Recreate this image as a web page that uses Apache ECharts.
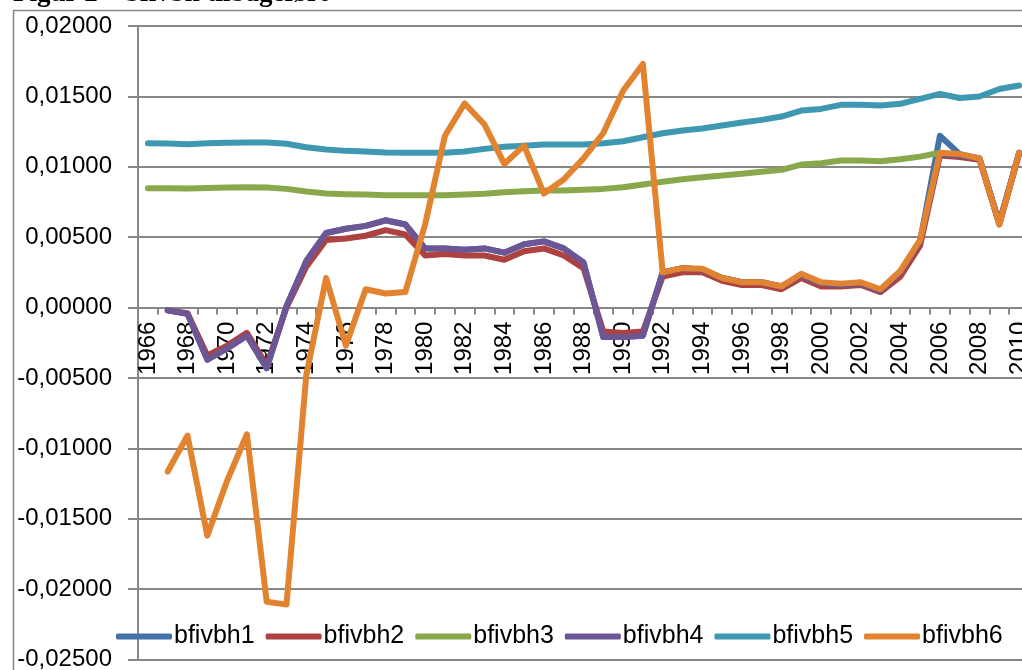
<!DOCTYPE html>
<html>
<head>
<meta charset="utf-8">
<script src="https://cdn.jsdelivr.net/npm/echarts@6/dist/echarts.min.js"></script>
<style>html,body{margin:0;padding:0;background:#fff;}#c{width:1022px;height:670px;}</style>
</head>
<body>
<div id="c"></div>
<script>
var years = [];
for (var y = 1966; y <= 2010; y++) years.push(String(y));

var yTicks = { min: -0.025, max: 0.02, interval: 0.005 };

var bfivbh1 = [null,-0.0002,-0.00045,-0.0037,-0.0029,-0.0020,-0.0043,0.0001,0.0033,0.0053,0.0056,0.0058,0.0062,0.0059,0.0042,0.0042,0.0041,0.0042,0.0039,0.0045,0.0047,0.0042,0.0032,-0.0021,-0.0021,-0.0020,0.0025,0.0028,0.0027,0.0021,0.0018,0.0018,0.0015,0.0023,0.0017,0.0016,0.0017,0.0012,0.0025,0.0047,0.0122,0.0109,0.0106,0.0060,0.0110];
var bfivbh2 = [null,-0.0002,-0.0004,-0.0034,-0.0027,-0.0018,-0.0041,0.0000,0.0029,0.0048,0.0049,0.0051,0.0055,0.0052,0.0037,0.0038,0.0037,0.0037,0.0034,0.0040,0.0042,0.0037,0.0028,-0.0017,-0.0018,-0.0017,0.0022,0.0025,0.0025,0.0019,0.0016,0.0016,0.0013,0.0021,0.0015,0.0015,0.0016,0.0011,0.0022,0.0044,0.0108,0.0107,0.0105,0.0059,0.0109];
var bfivbh3 = [0.00848,0.00848,0.00845,0.0085,0.00852,0.00854,0.00852,0.00843,0.00824,0.0081,0.00805,0.00803,0.00798,0.00798,0.00798,0.00798,0.00803,0.00808,0.00819,0.00826,0.00831,0.00831,0.00836,0.00843,0.00854,0.00874,0.00893,0.00911,0.00925,0.00938,0.0095,0.00964,0.00978,0.01016,0.01025,0.01044,0.01044,0.01039,0.01053,0.01072,0.0110,null,null,null,null];
var bfivbh4 = [null,-0.0002,-0.00045,-0.0037,-0.0029,-0.0020,-0.0043,0.0001,0.0033,0.0053,0.0056,0.0058,0.0062,0.0059,0.0042,0.0042,0.0041,0.0042,0.0039,0.0045,0.0047,0.0042,0.0032,-0.0021,-0.0021,-0.0020,0.0025,0.0028,0.0027,0.0021,0.0018,0.0018,0.0015,0.0023,0.0017,0.0016,0.0017,0.0012,0.0025,0.0047,0.0109,0.0108,0.0106,0.0060,0.0110];
var bfivbh5 = [0.01167,0.01165,0.0116,0.01167,0.0117,0.01172,0.01172,0.01163,0.01139,0.01122,0.01113,0.01108,0.01101,0.01099,0.01099,0.01099,0.01108,0.01127,0.01143,0.0115,0.01158,0.01158,0.01158,0.01167,0.01181,0.0121,0.01238,0.01257,0.01272,0.01293,0.01314,0.01333,0.01357,0.01399,0.01411,0.0144,0.0144,0.01435,0.01447,0.01482,0.01518,0.01489,0.01499,0.01553,0.01577];
var bfivbh6 = [null,-0.01165,-0.0091,-0.0162,-0.0123,-0.0090,-0.0209,-0.0211,-0.0048,0.0021,-0.0027,0.0013,0.0010,0.0011,0.0059,0.0122,0.0145,0.0130,0.0102,0.0115,0.0081,0.0091,0.0106,0.0124,0.0154,0.0173,0.0025,0.0028,0.00275,0.0021,0.0018,0.0018,0.0015,0.0024,0.0018,0.0017,0.0018,0.0013,0.0026,0.0048,0.0110,0.0109,0.0106,0.0059,0.0110];

var names = ['bfivbh1','bfivbh2','bfivbh3','bfivbh4','bfivbh5','bfivbh6'];
var colors = ['#4472A8','#AD4240','#89A84C','#6C5695','#3E98B2','#E2832F'];
var seriesData = [bfivbh1,bfivbh2,bfivbh3,bfivbh4,bfivbh5,bfivbh6];

var gridH = 633.5;
// place the category axis at value 0 through the value scale
var zeroOffset = -(0 - yTicks.min) / (yTicks.max - yTicks.min) * gridH;

var grid = '#878787';
var chart = echarts.init(document.getElementById('c'), null, {renderer:'canvas'});
chart.setOption({
  animation: false,
  color: colors,
  textStyle: { fontFamily: 'Liberation Sans' },
  graphic: [
    { type: 'rect', shape: { x: 13.5, y: 10.5, width: 1100, height: 700 }, style: { fill: 'none', stroke: grid, lineWidth: 1.5 }, z: 0 },
    { type: 'text', x: 13, y: -5.5, style: { text: 'Figur 2 \u2013 bfivbh tilbagef\u00f8rt', font: 'bold 27px "Liberation Serif"', fill: '#000', verticalAlign: 'middle', align: 'left' }, z: 10 }
  ],
  grid: { left: 138, top: 26, width: 891, height: gridH, containLabel: false, outerBoundsMode: 'none' },
  legend: {
    left: 116, top: 624, width: 1000, padding: 0,
    itemWidth: 56, itemHeight: 6, itemGap: 11, icon: 'roundRect',
    textStyle: { fontSize: 25, color: '#000', fontFamily: 'Liberation Sans', padding: [0,0,0,-3] },
    data: names.map(function (n) { return { name: n, icon: 'roundRect' }; })
  },
  xAxis: {
    type: 'category', data: years, boundaryGap: true, position: 'bottom', offset: zeroOffset, z: 0,
    axisLine: { onZero: false, lineStyle: { color: grid, width: 2 } },
    axisTick: { show: true, interval: 0, length: 7, lineStyle: { color: grid, width: 2 } },
    axisLabel: { show: true, interval: 1, rotate: 90, margin: 14, fontSize: 24, color: '#000', fontFamily: 'Liberation Sans', hideOverlap: false },
    splitLine: { show: false }
  },
  yAxis: {
    type: 'value', min: yTicks.min, max: yTicks.max, interval: yTicks.interval, z: 0,
    axisLine: { show: true, lineStyle: { color: grid, width: 2 } },
    axisTick: { show: true, length: 10, lineStyle: { color: grid, width: 2 } },
    axisLabel: { fontSize: 24, margin: 26, color: '#000', fontFamily: 'Liberation Sans',
      formatter: function (v) { return (Math.abs(v) < 1e-12 ? 0 : v).toFixed(5).replace('.', ','); } },
    splitLine: { show: true, lineStyle: { color: grid, width: 2 } }
  },
  series: names.map(function (n, i) {
    return {
      name: n, type: 'line', data: seriesData[i], symbol: 'none', showSymbol: false,
      legendIcon: 'roundRect', z: 5,
      connectNulls: false,
      lineStyle: { width: 6, color: colors[i], cap: 'round', join: 'round' },
      itemStyle: { color: colors[i] }
    };
  })
});
</script>
</body>
</html>
